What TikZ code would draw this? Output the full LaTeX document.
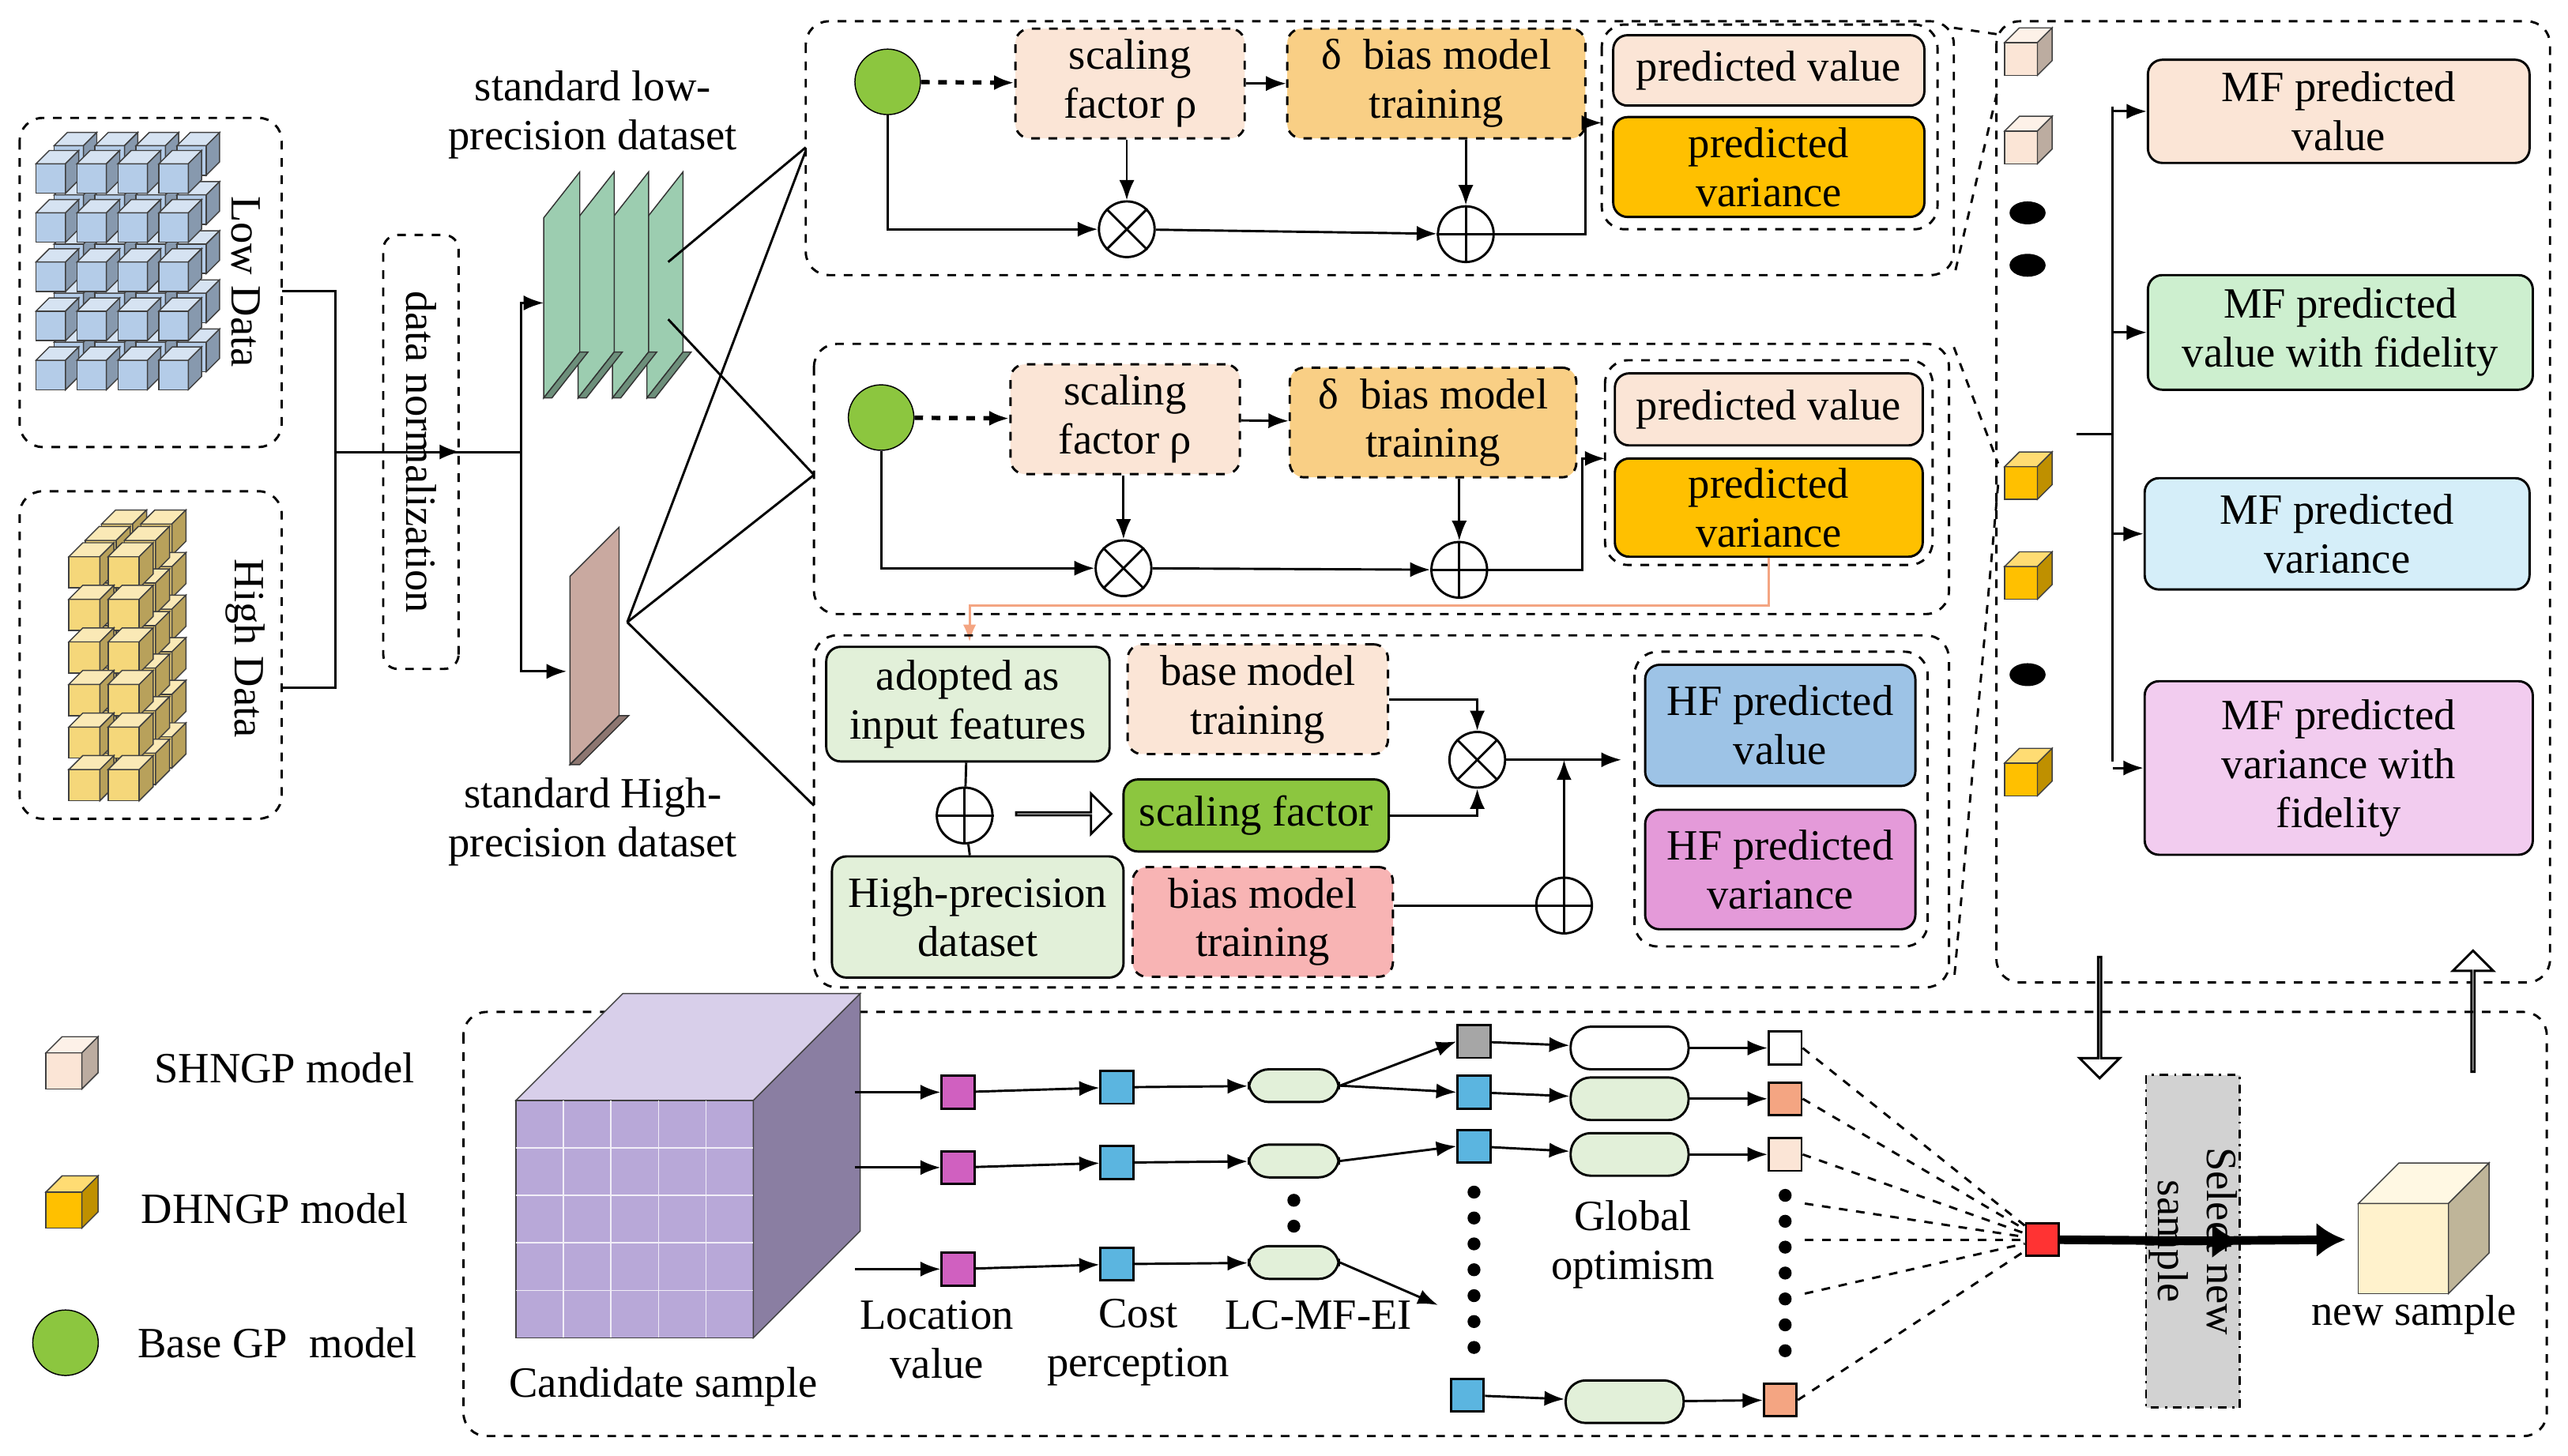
\documentclass[tikz,border=0pt]{standalone}
\usepackage{fontspec}
\setmainfont{Liberation Serif}
\usetikzlibrary{arrows.meta,positioning,calc,shapes.arrows}

\definecolor{peach}{HTML}{FBE5D6}
\definecolor{biasor}{HTML}{F9CF85}
\definecolor{gold}{HTML}{FFC000}
\definecolor{gpgreen}{HTML}{8CC63F}
\definecolor{lgreen}{HTML}{E2F0D9}
\definecolor{pinkb}{HTML}{F8B4B4}
\definecolor{hfblue}{HTML}{9DC3E6}
\definecolor{hfpink}{HTML}{E49AD9}
\definecolor{mfgreen}{HTML}{CDEFCF}
\definecolor{mfblue}{HTML}{D5EEF9}
\definecolor{mfpink}{HTML}{F2CCEF}
\definecolor{lowblue}{HTML}{B4CCE8}
\definecolor{hiyel}{HTML}{F5D77A}
\definecolor{dsgreen}{HTML}{9CCDB0}
\definecolor{dsbrown}{HTML}{C9A9A0}
\definecolor{magsq}{HTML}{D060C0}
\definecolor{bluesq}{HTML}{5BB5E0}
\definecolor{orsq}{HTML}{F4A582}
\definecolor{purp}{HTML}{B8A8D8}
\definecolor{newsamp}{HTML}{FFF2CC}

\tikzset{
  sz/.style 2 args={minimum width=#1*0.02cm,minimum height=#2*0.02cm},
  blk/.style={draw,thick,rounded corners=5pt,align=center,inner sep=1pt,
    font=\fontsize{15}{17}\selectfont},
  dblk/.style={blk,dashed},
  panel/.style={draw,thick,dashed,rounded corners=8pt},
  op/.style={draw,thick,circle,minimum size=34*0.02cm,inner sep=0pt},
  gp/.style={circle,draw,fill=gpgreen,minimum size=40*0.02cm,inner sep=0pt},
  arr/.style={-{Latex[length=7pt]},thick},
  sq/.style={draw,thick,minimum size=20*0.02cm,inner sep=0pt},
  pill/.style={draw,thick,rounded corners=7pt,fill=lgreen,inner sep=0pt},
  lbl/.style={align=center,font=\fontsize{15}{17}\selectfont},
  hollow/.style={single arrow,draw,thick,fill=white,inner sep=0pt,
    single arrow head extend=5pt,minimum width=14pt},
  bigdots/.style={line width=4.5pt,dash pattern=on 0pt off 9pt,line cap=round}
}

% small cube: x, y (top-left of front face), size, colour
\newcommand{\cubeat}[4]{%
  \pgfmathsetmacro{\cd}{0.45*#3}
  \filldraw[draw=black!75,fill=#4] (#1,#2) rectangle ++(#3,#3);
  \filldraw[draw=black!75,fill=#4!55!white] (#1,#2) -- ++(\cd,-\cd) -- ++(#3,0) -- ++(-\cd,\cd) -- cycle;
  \filldraw[draw=black!75,fill=#4!75!black] (#1+#3,#2) -- ++(\cd,-\cd) -- ++(0,#3) -- ++(-\cd,\cd) -- cycle;
}
\newcommand{\otimesat}[1]{\draw[thick] (#1.45) -- (#1.225) (#1.135) -- (#1.315);}
\newcommand{\oplusat}[1]{\draw[thick] (#1.north) -- (#1.south) (#1.east) -- (#1.west);}

\begin{document}
\begin{tikzpicture}[x=0.02cm,y=-0.02cm]
\useasboundingbox (0,0) rectangle (1568,889);

% input data
\draw[panel] (12,72) rectangle (172,273);
\draw[panel] (12,300) rectangle (172,500);
\foreach \k in {1,0}
  \foreach \i in {0,...,4}
    \foreach \j in {0,...,3}
      {\cubeat{22+\j*25+\k*11}{100+\i*30-\k*11}{18}{lowblue}}
\foreach \k in {2,1,0}
  \foreach \i in {0,...,5}
    \foreach \j in {0,1}
      {\cubeat{42+\j*24+\k*10}{340+\i*26-\k*10}{19}{hiyel}}
\node[lbl,rotate=-90] (low) at (150,172) {Low Data};
\node[lbl,rotate=-90] (high) at (150,396) {High Data};
\node[dblk,rotate=-90,sz={265}{46}] (norm) at (257,276) {data normalization};
\draw[thick] (172,178) -| (205,276);
\draw[thick] (172,420) -| (205,276);
\draw[arr] (205,276) -- (norm.north);
\draw[thick] (norm.south) -- (318,276);
\draw[arr] (318,276) |- (332,185);
\draw[arr] (318,276) |- (346,410);

% datasets
\foreach \k in {3,2,1,0}
  {\filldraw[draw=black!80,fill=dsgreen] (332+\k*21,243) -- ++(0,-110) -- ++(22,-28) -- ++(0,110) -- cycle;
   \filldraw[draw=black!80,fill=dsgreen!70!black] (332+\k*21,243) -- ++(5,0) -- ++(22,-28) -- ++(-5,0) -- cycle;}
\filldraw[draw=black!80,fill=dsbrown] (348,467) -- ++(0,-115) -- ++(30,-30) -- ++(0,115) -- cycle;
\filldraw[draw=black!80,fill=dsbrown!70!black] (348,467) -- ++(6,0) -- ++(30,-30) -- ++(-6,0) -- cycle;
\node[lbl] (lowds) at (362,70) {standard low-\\precision dataset};
\node[lbl] (highds) at (362,502) {standard High-\\precision dataset};
\draw[thick] (408,160) -- (492,90);
\draw[thick] (408,195) -- (497,290);
\draw[thick] (383,380) -- (492,92);
\draw[thick] (383,380) -- (497,492);
\draw[thick] (383,380) -- (497,290);

% first panel (SHNGP)
\draw[panel] (492,13) rectangle (1193,168);
\node[gp] (gp1) at (542,50) {};
\node[dblk,fill=peach,sz={140}{67}] (sf1) at (690,51) {scaling\\factor ρ};
\node[dblk,fill=biasor,sz={182}{67}] (bm1) at (877,51) {δ\ \ bias model\\training};
\draw[panel] (978,15) rectangle (1183,140);
\node[blk,fill=peach,sz={190}{43}] (pv1) at (1080,43) {predicted value};
\node[blk,fill=gold,sz={190}{61}] (pvar1) at (1080,102) {predicted\\variance};
\node[op] (ot1) at (688,140) {}; \otimesat{ot1}
\node[op] (pl1) at (895,143) {}; \oplusat{pl1}
\draw[arr,dashed,line width=1.5pt] (gp1) -- (sf1);
\draw[arr] (sf1) -- (bm1);
\draw[arr] (sf1.south -| ot1) -- (ot1);
\draw[arr] (bm1.south -| pl1) -- (pl1);
\draw[arr] (gp1) |- (ot1);
\draw[arr] (ot1) -- (pl1);
\draw[arr] (pl1) -- (968,143) -- (968,75) -- (978,75);

% second panel (DHNGP)
\draw[panel] (497,210) rectangle (1190,375);
\node[gp] (gp2) at (538,255) {};
\node[dblk,fill=peach,sz={140}{67}] (sf2) at (687,256) {scaling\\factor ρ};
\node[dblk,fill=biasor,sz={175}{67}] (bm2) at (875,258) {δ\ \ bias model\\training};
\draw[panel] (980,220) rectangle (1180,345);
\node[blk,fill=peach,sz={188}{44}] (pv2) at (1080,250) {predicted value};
\node[blk,fill=gold,sz={188}{60}] (pvar2) at (1080,310) {predicted\\variance};
\node[op] (ot2) at (686,347) {}; \otimesat{ot2}
\node[op] (pl2) at (891,348) {}; \oplusat{pl2}
\draw[arr,dashed,line width=1.5pt] (gp2) -- (sf2);
\draw[arr] (sf2) -- (bm2);
\draw[arr] (sf2.south -| ot2) -- (ot2);
\draw[arr] (bm2.south -| pl2) -- (pl2);
\draw[arr] (gp2) |- (ot2);
\draw[arr] (ot2) -- (pl2);
\draw[arr] (pl2) -- (966,348) -- (966,280) -- (980,280);
\draw[-{Latex[length=6pt]},thick,orsq] (pvar2.south) -- (1080,370) -| (592,392);

% third panel (HF)
\draw[panel] (497,388) rectangle (1190,603);
\node[blk,fill=lgreen,sz={173}{70}] (ad) at (591,430) {adopted as\\input features};
\node[dblk,fill=peach,sz={159}{67}] (bmt) at (768,427) {base model\\training};
\node[op] (pl3) at (589,498) {}; \oplusat{pl3}
\node[hollow,minimum height=58*0.02cm] (ha) at (649,497) {};
\node[blk,fill=gpgreen,sz={162}{44}] (sfb) at (767,498) {scaling factor};
\node[blk,fill=lgreen,sz={178}{74}] (hp) at (597,560) {High-precision\\dataset};
\node[dblk,fill=pinkb,sz={159}{67}] (bmb) at (771,563) {bias model\\training};
\node[op] (ot3) at (902,464) {}; \otimesat{ot3}
\node[op] (pl4) at (955,553) {}; \oplusat{pl4}
\draw[panel] (998,398) rectangle (1177,578);
\node[blk,fill=hfblue,sz={165}{74}] (hfv) at (1087,443) {HF predicted\\value};
\node[blk,fill=hfpink,sz={165}{73}] (hfvar) at (1087,531) {HF predicted\\variance};
\draw[thick] (ad) -- (pl3) -- (hp);
\draw[arr] (bmt.east) -| (ot3);
\draw[arr] (sfb.east) -| (ot3);
\draw[arr] (ot3) -- (990,464);
\draw[thick] (bmb.east |- pl4) -- (pl4);
\draw[arr] (pl4) -- (955,464);

% zoom lines to right column
\draw[thick,dashed] (1193,17) -- (1220,21);
\draw[thick,dashed] (1194,165) -- (1220,54);
\draw[thick,dashed] (1193,212) -- (1220,283);
\draw[thick,dashed] (1220,296) -- (1193,600);

% right column
\draw[panel] (1219,13) rectangle (1557,600);
\cubeat{1224}{26}{20}{peach}
\cubeat{1224}{80}{20}{peach}
\fill (1238,130) ellipse (11 and 7);
\fill (1238,162) ellipse (11 and 7);
\cubeat{1224}{285}{20}{gold}
\cubeat{1224}{346}{20}{gold}
\fill (1238,412) ellipse (11 and 7);
\cubeat{1224}{466}{20}{gold}
\node[blk,fill=peach,sz={233}{63}] (mf1) at (1428,68) {MF predicted\\value};
\node[blk,fill=mfgreen,sz={235}{70}] (mf2) at (1429,203) {MF predicted\\value with fidelity};
\node[blk,fill=mfblue,sz={235}{68}] (mf3) at (1427,326) {MF predicted\\variance};
\node[blk,fill=mfpink,sz={237}{106}] (mf4) at (1428,469) {MF predicted\\variance with\\fidelity};
\draw[thick] (1268,265) -- (1290,265);
\draw[thick] (1290,65) -- (1290,465);
\foreach \m in {mf1,mf2,mf3,mf4}
  \draw[arr] (1290,0 |- \m.west) -- (\m.west);
\node[hollow,rotate=-90,minimum height=74*0.02cm] (down) at (1282,621) {};
\node[hollow,rotate=90,minimum height=74*0.02cm] (up) at (1510,618) {};

% legend
\cubeat{28}{643}{22}{peach}
\node[lbl,anchor=west] (leg1) at (88,652) {SHNGP model};
\cubeat{28}{728}{22}{gold}
\node[lbl,anchor=west] (leg2) at (80,738) {DHNGP model};
\node[gp] (leg3c) at (40,820) {};
\node[lbl,anchor=west] (leg3) at (78,820) {Base GP\ \ model};

% bottom: acquisition
\draw[panel] (283,618) rectangle (1555,877);
\cubeat{315}{672}{145}{purp}
\foreach \t in {1,...,4}
  {\draw[white!80!purp] (315+\t*29,672) -- ++(0,145);
   \draw[white!80!purp] (315,672+\t*29) -- ++(145,0);}
\node[lbl] (cand) at (405,847) {Candidate sample};
\foreach \n/\y in {1/667,2/713,3/775}
  {\coordinate (s\n) at (522,\y);
   \node[sq,fill=magsq] (m\n) at (585,\y) {};
   \node[sq,fill=bluesq] (b\n) at (682,\y-3) {};
   \node[pill,sz={55}{20}] (p\n) at (790,\y-4) {};
   \draw[arr] (s\n) -- (m\n);
   \draw[arr] (m\n) -- (b\n);
   \draw[arr] (b\n) -- (p\n);}
\draw[bigdots] (790,733) -- (790,752);
\node[lbl] (loc) at (572,818) {Location\\value};
\node[lbl] (cost) at (695,820) {Cost\\perception};
\node[lbl] (lcmf) at (805,803) {LC-MF-EI};
\node[sq,fill=gray!70] (c1) at (900,636) {};
\node[sq,fill=bluesq] (c2) at (900,667) {};
\node[sq,fill=bluesq] (c3) at (900,700) {};
\node[sq,fill=bluesq] (c4) at (896,852) {};
\coordinate (cend) at (878,797);
\draw[bigdots] (900,728) -- (900,835);
\draw[arr] (p1.east) -- (c1.west);
\draw[arr] (p1.east) -- (c2.west);
\draw[arr] (p2.east) -- (c3.west);
\draw[arr] (p3.east) -- (cend);
\node[pill,fill=white,sz={72}{26}] (g1) at (995,640) {};
\node[pill,sz={72}{26}] (g2) at (995,671) {};
\node[pill,sz={72}{26}] (g3) at (995,705) {};
\node[pill,sz={72}{26}] (g4) at (992,856) {};
\node[lbl] (glob) at (997,760) {Global\\optimism};
\node[sq,fill=white] (r1) at (1090,640) {};
\node[sq,fill=orsq] (r2) at (1090,671) {};
\node[sq,fill=peach] (r3) at (1090,705) {};
\node[sq,fill=orsq] (r4) at (1087,855) {};
\draw[bigdots] (1090,730) -- (1090,835);
\foreach \n in {1,...,4}
  {\draw[arr] (c\n) -- (g\n);
   \draw[arr] (g\n) -- (r\n);}
\node[sq,fill=red!80] (red) at (1247,757) {};
\foreach \n in {1,...,4}
  \draw[thick,dashed] (r\n.east) -- (red);
\foreach \y in {735,757,790}
  \draw[thick,dashed] (1102,\y) -- (red);
\node[blk,rounded corners=0pt,dash dot,fill=gray!35,rotate=-90,sz={203}{52}] (sel) at (1339,758) {Select new\\sample};
\draw[-{Latex[length=10pt,width=12pt]},line width=3pt] (red) -- (sel.north);
\draw[-{Latex[length=10pt,width=12pt]},line width=3pt] (sel.south) -- (1432,757);
\cubeat{1440}{735}{55}{newsamp}
\node[lbl] (news) at (1474,803) {new sample};
\end{tikzpicture}
\end{document}
